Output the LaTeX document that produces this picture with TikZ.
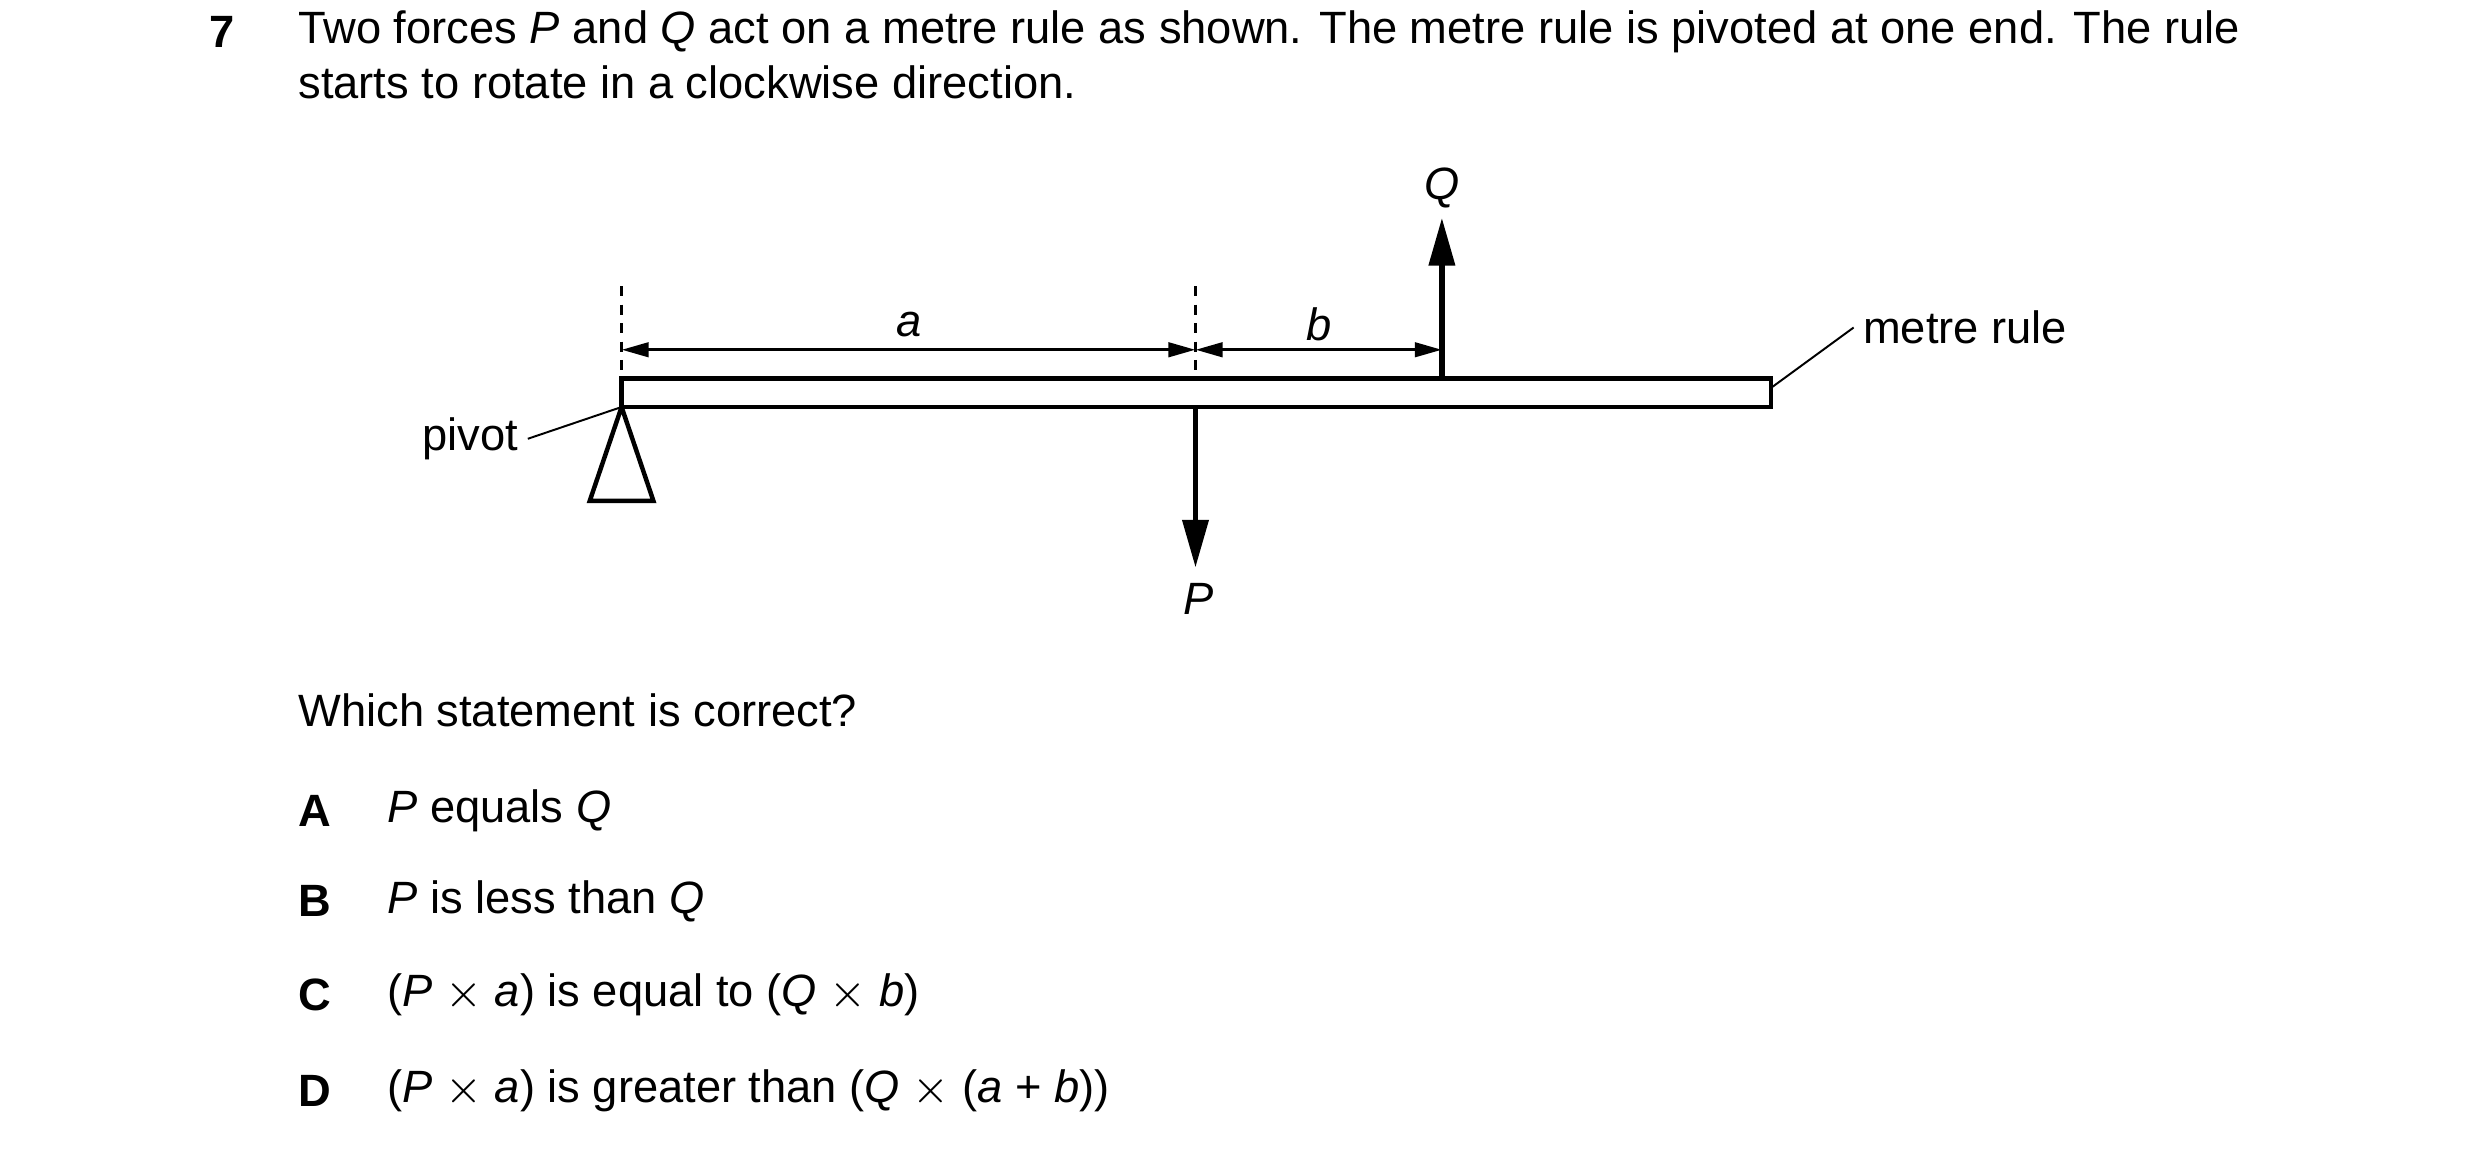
\documentclass[tikz,border=0pt]{standalone}
\usepackage{fontspec}
\setmainfont{Liberation Sans}
\usetikzlibrary{arrows.meta,positioning}
\tikzset{
  txt/.style={anchor=west,inner sep=0pt,font=\fontsize{8.1}{10}\selectfont},
  lbl/.style={inner sep=0pt,font=\fontsize{8.1}{10}\selectfont\itshape},
  force/.style={line width=1pt,-{Triangle[length=0.3cm,width=0.16cm]}},
  dim/.style={line width=0.6pt,{Triangle[length=0.17cm,width=0.09cm]}-{Triangle[length=0.17cm,width=0.09cm]}},
  guide/.style={line width=0.4pt,dash pattern=on 1.8pt off 1.5pt},
  lead/.style={line width=0.35pt}
}
\begin{document}
\begin{tikzpicture}[x=0.01cm,y=-0.01cm]
\useasboundingbox (0,0) rectangle (1560,723);
% question text
\node[txt,font=\fontsize{8.1}{10}\selectfont\bfseries] (num) at (131,20) {7};
\node[txt] (l1) at (187,20) {Two forces \textit{P} and \textit{Q} act on a metre rule as shown. The metre rule is pivoted at one end. The rule};
\node[txt] (l2) at (187,52) {starts to rotate in a clockwise direction.};
% rule and pivot
\draw[line width=0.8pt] (391,238) rectangle (1114,256);
\coordinate (apex) at (391,256);
\draw[line width=0.8pt] (apex) -- (371,315) -- (411,315) -- cycle;
% guides
\coordinate (g0) at (391,180);
\coordinate (g1) at (752,180);
\coordinate (g0b) at (391,238);
\coordinate (g1b) at (752,238);
\draw[guide] (g0) -- (g0b);
\draw[guide] (g1) -- (g1b);
% dimensions
\coordinate (da) at (391,220);
\coordinate (db) at (752,220);
\coordinate (dc) at (907,220);
\draw[dim] (da) -- (db);
\draw[dim] (db) -- (dc);
\node[lbl] (a) at (572,204) {a};
\node[lbl] (b) at (830,204) {b};
% forces
\coordinate (qs) at (907,238);
\coordinate (qe) at (907,137);
\coordinate (ps) at (752,256);
\coordinate (pe) at (752,357);
\draw[force] (qs) -- (qe);
\draw[force] (ps) -- (pe);
\node[lbl] (Q) at (907,118) {Q};
\node[lbl] (P) at (754,377) {P};
% labels
\node[txt,inner sep=1.5pt] (mr) at (1166,206) {metre rule};
\coordinate (mre) at (1114,244);
\draw[lead] (mre) -- (mr.west);
\node[txt,anchor=east,inner sep=1.5pt] (pv) at (332,276) {pivot};
\draw[lead] (pv.east) -- (apex);
% options
\node[txt] (qq) at (187,447) {Which statement is correct?};
\foreach \y/\k/\t in {510/A/{\textit{P} equals \textit{Q}},
  567/B/{\textit{P} is less than \textit{Q}},
  626/C/{(\textit{P} $\times$ \textit{a}) is equal to (\textit{Q} $\times$ \textit{b})},
  686/D/{(\textit{P} $\times$ \textit{a}) is greater than (\textit{Q} $\times$ (\textit{a} + \textit{b}))}}{
  \node[txt,font=\fontsize{8.1}{10}\selectfont\bfseries] (k\k) at (187,\y) {\k};
  \node[txt] (t\k) at (243,\y) {\t};
}
\end{tikzpicture}
\end{document}
